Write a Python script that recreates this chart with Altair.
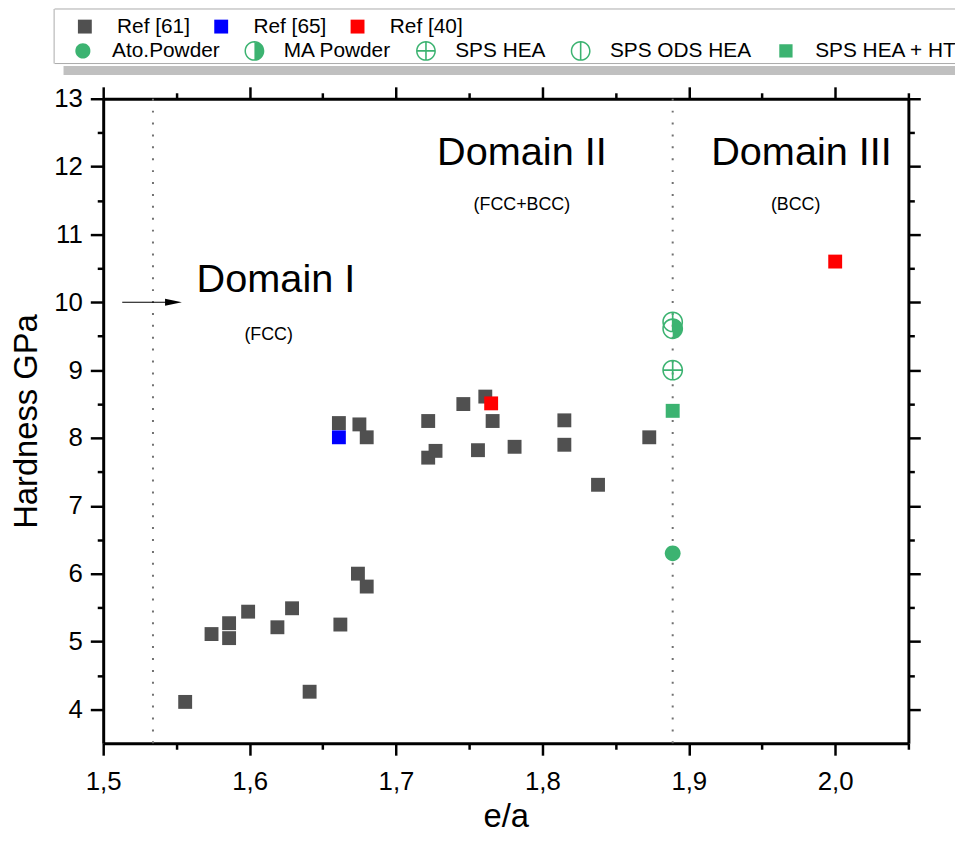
import altair as alt
import pandas as pd

FONT = "Liberation Sans"
GREEN = "#3cb371"

# Ref [61], Ref [65], Ref [40]: e/a and hardness (GPa)
ref61_ea = [1.556, 1.574, 1.586, 1.586, 1.599, 1.619, 1.629, 1.641, 1.662, 1.661,
            1.675, 1.680, 1.674, 1.680, 1.722, 1.722, 1.727, 1.746, 1.761, 1.766,
            1.756, 1.781, 1.815, 1.815, 1.838, 1.873]
ref61_hv = [4.11, 5.11, 5.05, 5.27, 5.44, 5.21, 5.49, 4.26, 5.25, 8.22,
            8.20, 8.01, 6.00, 5.81, 8.25, 7.71, 7.81, 8.50, 8.61, 8.25,
            7.82, 7.87, 8.26, 7.90, 7.31, 8.01]
ref65_ea = [1.661]
ref65_hv = [8.01]
ref40_ea = [1.765, 2.0]
ref40_hv = [8.51, 10.6]

refs = ["Ref [61]", "Ref [65]", "Ref [40]"]
ref_colors = ["#505050", "#0000ff", "#ff0000"]

# this work (all at e/a = 1.889); legend order and drawing order
green_types = ["Ato.Powder", "MA Powder", "SPS HEA", "SPS ODS HEA", "SPS HEA + HT"]
green_pts_type = ["Ato.Powder", "SPS HEA", "SPS ODS HEA", "MA Powder", "SPS HEA + HT"]
green_ea = [1.889, 1.889, 1.889, 1.889, 1.889]
green_hv = [6.30, 9.00, 9.71, 9.61, 8.40]

# domain boundaries and labels
bound_ea = [1.534, 1.889]
domain_text = ["Domain I", "Domain II", "Domain III"]
domain_x = [1.618, 1.786, 1.977]
domain_y = [10.15, 12.02, 12.02]
phase_text = ["(FCC)", "(FCC+BCC)", "(BCC)"]
phase_x = [1.613, 1.786, 1.973]
phase_y = [9.52, 11.44, 11.44]

# arrow into domain I
arrow_x = [1.513, 1.546]
arrow_head_x = 1.548
arrow_y = 10.0

x_ticks = [1.5, 1.55, 1.6, 1.65, 1.7, 1.75, 1.8, 1.85, 1.9, 1.95, 2.0, 2.05]
y_ticks = [4, 4.5, 5, 5.5, 6, 6.5, 7, 7.5, 8, 8.5, 9, 9.5, 10, 10.5,
           11, 11.5, 12, 12.5, 13]

# marker paths (unit box -1..1)
ring = ("M1,0A1,1 0 1,1 -1,0A1,1 0 1,1 1,0Z"
        "M0.85,0A0.85,0.85 0 1,0 -0.85,0A0.85,0.85 0 1,0 0.85,0Z")
half = "M0,-1A1,1 0 0,1 0,1Z"
vbar = "M-0.08,-0.9L0.08,-0.9L0.08,0.9L-0.08,0.9Z"
hbar = "M-0.9,-0.08L0.9,-0.08L0.9,0.08L-0.9,0.08Z"
dot = "M0.76,0A0.76,0.76 0 1,1 -0.76,0A0.76,0.76 0 1,1 0.76,0Z"
sq = "M-0.67,-0.67L0.67,-0.67L0.67,0.67L-0.67,0.67Z"
green_shapes = [dot, ring + half, ring + vbar + hbar, ring + vbar, sq]

ref_df = pd.DataFrame({
    "ea": ref61_ea + ref65_ea + ref40_ea,
    "hv": ref61_hv + ref65_hv + ref40_hv,
    "ref": ["Ref [61]"] * len(ref61_ea) + ["Ref [65]"] * len(ref65_ea) + ["Ref [40]"] * len(ref40_ea),
})
green_df = pd.DataFrame({"ea": green_ea, "hv": green_hv, "type": green_pts_type})
bound_df = pd.DataFrame({"ea": bound_ea})
dom_df = pd.DataFrame({"ea": domain_x, "hv": domain_y, "txt": domain_text})
phase_df = pd.DataFrame({"ea": phase_x, "hv": phase_y, "txt": phase_text})
arrow_df = pd.DataFrame({"x": [arrow_x[0]], "x2": [arrow_x[1]], "y": [arrow_y], "hx": [arrow_head_x]})
one = pd.DataFrame({"a": [0]})

xs = alt.Scale(domain=[1.5, 2.05], nice=False, zero=False)
ys = alt.Scale(domain=[3.5, 13], nice=False, zero=False)

minor_x = "round(datum.value * 20) % 2 === 1"
minor_y = "round(datum.value * 2) % 2 === 1"
frame = dict(domainColor="black", domainWidth=3, tickColor="black", tickWidth=2.5,
             grid=False, labelOverlap=False)

ax_bottom = alt.Axis(orient="bottom", values=x_ticks, title="e/a", labelFlush=False,
                     labelExpr=f"({minor_x}) || datum.value > 2.01 ? '' : replace(format(datum.value, '.1f'), '.', ',')",
                     tickSize={"condition": {"test": minor_x, "value": 6}, "value": 12},
                     labelPadding=14, titlePadding=6, **frame)
ax_left = alt.Axis(orient="left", values=y_ticks, title="Hardness GPa",
                   labelExpr=f"({minor_y}) ? '' : format(datum.value, 'd')",
                   tickSize={"condition": {"test": minor_y, "value": 6}, "value": 13},
                   labelPadding=8, titlePadding=10, **frame)
ax_top = alt.Axis(orient="top", values=x_ticks, title=None, labels=False,
                  tickSize={"condition": {"test": minor_x, "value": 6}, "value": 12}, **frame)
ax_right = alt.Axis(orient="right", values=y_ticks, title=None, labels=False,
                    tickSize={"condition": {"test": minor_y, "value": 6}, "value": 12}, **frame)

# legend box (decoration above the plot)
box_top = alt.Chart(one).mark_rule(color="#aaaaaa", strokeWidth=1).encode(
    x=alt.value(-49), x2=alt.value(859), y=alt.value(-90.5))
box_bot = alt.Chart(one).mark_rule(color="#aaaaaa", strokeWidth=1).encode(
    x=alt.value(-49), x2=alt.value(859), y=alt.value(-35.5))
box_left = alt.Chart(one).mark_rule(color="#aaaaaa", strokeWidth=1).encode(
    x=alt.value(-49.5), y=alt.value(-90.5), y2=alt.value(-35.5))
shadow = alt.Chart(one).mark_rect(color="#c0c0c0").encode(
    x=alt.value(-40), x2=alt.value(859), y=alt.value(-33), y2=alt.value(-24))

bounds = alt.Chart(bound_df).mark_rule(color="#707070", strokeWidth=2, strokeDash=[2, 10]).encode(
    x=alt.X("ea:Q", scale=xs, axis=None))

refs_layer = alt.Chart(ref_df).mark_square(size=196, opacity=1).encode(
    x=alt.X("ea:Q", scale=xs, axis=ax_bottom),
    y=alt.Y("hv:Q", scale=ys, axis=ax_left),
    color=alt.Color("ref:N", scale=alt.Scale(domain=refs, range=ref_colors),
                    legend=alt.Legend(orient="none", legendX=-29, legendY=-83.5,
                                      direction="horizontal", title=None,
                                      symbolType="square", symbolSize=196,
                                      symbolStrokeWidth=0, symbolOpacity=1,
                                      labelOffset=22, columnPadding=20.5)),
)

green_layer = alt.Chart(green_df).mark_point(filled=True, opacity=1, strokeWidth=0,
                                             color=GREEN, size=441).encode(
    x=alt.X("ea:Q", scale=xs, axis=None),
    y=alt.Y("hv:Q", scale=ys, axis=None),
    shape=alt.Shape("type:N", scale=alt.Scale(domain=green_types, range=green_shapes),
                    legend=alt.Legend(orient="none", legendX=-31, legendY=-59,
                                      direction="horizontal", title=None,
                                      symbolSize=400, symbolFillColor=GREEN,
                                      symbolStrokeWidth=0, symbolOpacity=1,
                                      labelOffset=19, columnPadding=24)),
)

arrow_line = alt.Chart(arrow_df).mark_rule(color="black", strokeWidth=1.2).encode(
    x=alt.X("x:Q", scale=xs, axis=None), x2="x2:Q",
    y=alt.Y("y:Q", scale=ys, axis=None))
arrow_head = alt.Chart(arrow_df).mark_point(
    shape="M-1,-0.42L1,0L-1,0.42Z", size=289, filled=True, color="black", opacity=1).encode(
    x=alt.X("hx:Q", scale=xs, axis=None), y=alt.Y("y:Q", scale=ys, axis=None))

dom_layer = alt.Chart(dom_df).mark_text(font=FONT, fontSize=40, color="black",
                                        align="center", baseline="alphabetic").encode(
    x=alt.X("ea:Q", scale=xs, axis=ax_top),
    y=alt.Y("hv:Q", scale=ys, axis=ax_right),
    text="txt:N")
phase_layer = alt.Chart(phase_df).mark_text(font=FONT, fontSize=18, color="black",
                                            align="center", baseline="middle").encode(
    x=alt.X("ea:Q", scale=xs, axis=None),
    y=alt.Y("hv:Q", scale=ys, axis=None),
    text="txt:N")

chart = alt.layer(
    shadow, box_top, box_bot, box_left,
    bounds, arrow_line, arrow_head, refs_layer, green_layer, dom_layer, phase_layer,
).resolve_axis(
    x="independent", y="independent"
).properties(
    width=812, height=650,
    autosize=alt.AutoSizeParams(type="none"),
    padding={"left": 96, "top": 88, "right": 47, "bottom": 91},
).configure_view(
    stroke=None
).configure_axis(
    labelFont=FONT, titleFont=FONT, labelFontSize=26, titleFontSize=33,
    titleFontWeight="normal", labelColor="black", titleColor="black",
).configure_legend(
    labelFont=FONT, labelFontSize=21, labelColor="black", padding=0, labelLimit=400,
)

chart.save("out.html", embed_options={"renderer": "svg", "actions": False})
